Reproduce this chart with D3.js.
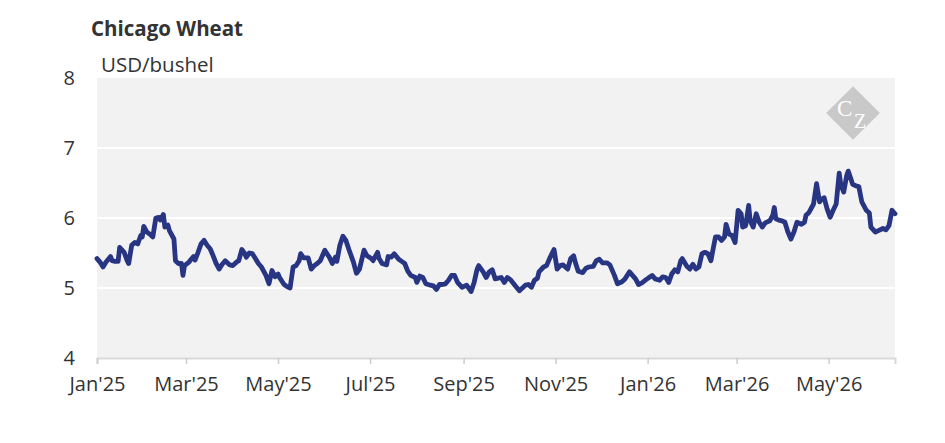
<!DOCTYPE html>
<html>
<head>
<meta charset="utf-8">
<script src="https://cdn.jsdelivr.net/npm/d3@7"></script>
<style>
  body { margin: 0; background: #fff; }
  svg { display: block; font-family: 'Open Sans', sans-serif; }
</style>
</head>
<body>
<svg id="chart" width="945" height="443"></svg>
<script>
// Chicago wheat, USD/bushel
const dates = [
  '2025-01-01', '2025-01-03', '2025-01-05', '2025-01-07', '2025-01-10', '2025-01-11', '2025-01-13', '2025-01-15',
  '2025-01-16', '2025-01-19', '2025-01-21', '2025-01-22', '2025-01-24', '2025-01-26', '2025-01-28', '2025-01-30',
  '2025-01-31', '2025-02-01', '2025-02-03', '2025-02-05', '2025-02-07', '2025-02-09', '2025-02-11', '2025-02-12',
  '2025-02-14', '2025-02-15', '2025-02-17', '2025-02-18', '2025-02-21', '2025-02-22', '2025-02-24', '2025-02-26',
  '2025-02-27', '2025-02-28', '2025-03-03', '2025-03-04', '2025-03-06', '2025-03-07', '2025-03-09', '2025-03-11',
  '2025-03-13', '2025-03-15', '2025-03-17', '2025-03-19', '2025-03-21', '2025-03-23', '2025-03-25', '2025-03-27',
  '2025-03-30', '2025-04-01', '2025-04-04', '2025-04-05', '2025-04-07', '2025-04-09', '2025-04-10', '2025-04-12',
  '2025-04-14', '2025-04-16', '2025-04-18', '2025-04-20', '2025-04-23', '2025-04-25', '2025-04-27', '2025-04-29',
  '2025-05-01', '2025-05-02', '2025-05-05', '2025-05-07', '2025-05-09', '2025-05-11', '2025-05-13', '2025-05-15',
  '2025-05-16', '2025-05-18', '2025-05-21', '2025-05-23', '2025-05-25', '2025-05-27', '2025-05-29', '2025-06-01',
  '2025-06-04', '2025-06-06', '2025-06-08', '2025-06-09', '2025-06-11', '2025-06-13', '2025-06-15', '2025-06-17',
  '2025-06-20', '2025-06-22', '2025-06-24', '2025-06-27', '2025-06-29', '2025-07-02', '2025-07-03', '2025-07-06',
  '2025-07-07', '2025-07-09', '2025-07-12', '2025-07-13', '2025-07-15', '2025-07-17', '2025-07-20', '2025-07-22',
  '2025-07-24', '2025-07-26', '2025-07-28', '2025-07-31', '2025-08-01', '2025-08-03', '2025-08-05', '2025-08-07',
  '2025-08-10', '2025-08-12', '2025-08-14', '2025-08-16', '2025-08-18', '2025-08-20', '2025-08-22', '2025-08-24',
  '2025-08-26', '2025-08-28', '2025-08-31', '2025-09-02', '2025-09-03', '2025-09-06', '2025-09-08', '2025-09-10',
  '2025-09-11', '2025-09-14', '2025-09-16', '2025-09-18', '2025-09-20', '2025-09-22', '2025-09-24', '2025-09-26',
  '2025-09-28', '2025-09-30', '2025-10-02', '2025-10-05', '2025-10-08', '2025-10-10', '2025-10-12', '2025-10-14',
  '2025-10-16', '2025-10-18', '2025-10-20', '2025-10-21', '2025-10-24', '2025-10-26', '2025-10-28', '2025-10-30',
  '2025-10-31', '2025-11-02', '2025-11-04', '2025-11-06', '2025-11-09', '2025-11-11', '2025-11-13', '2025-11-14',
  '2025-11-16', '2025-11-19', '2025-11-21', '2025-11-23', '2025-11-26', '2025-11-28', '2025-11-30', '2025-12-02',
  '2025-12-05', '2025-12-07', '2025-12-10', '2025-12-12', '2025-12-15', '2025-12-17', '2025-12-20', '2025-12-22',
  '2025-12-24', '2025-12-26', '2025-12-28', '2025-12-31', '2026-01-02', '2026-01-04', '2026-01-06', '2026-01-09',
  '2026-01-11', '2026-01-13', '2026-01-15', '2026-01-17', '2026-01-19', '2026-01-21', '2026-01-23', '2026-01-24',
  '2026-01-27', '2026-01-29', '2026-01-31', '2026-02-02', '2026-02-04', '2026-02-06', '2026-02-08', '2026-02-10',
  '2026-02-12', '2026-02-13', '2026-02-15', '2026-02-17', '2026-02-19', '2026-02-21', '2026-02-22', '2026-02-24',
  '2026-02-26', '2026-02-28', '2026-03-02', '2026-03-04', '2026-03-05', '2026-03-07', '2026-03-09', '2026-03-10',
  '2026-03-12', '2026-03-14', '2026-03-16', '2026-03-18', '2026-03-20', '2026-03-23', '2026-03-25', '2026-03-26',
  '2026-03-27', '2026-03-29', '2026-03-31', '2026-04-02', '2026-04-04', '2026-04-06', '2026-04-08', '2026-04-10',
  '2026-04-13', '2026-04-15', '2026-04-16', '2026-04-18', '2026-04-21', '2026-04-23', '2026-04-25', '2026-04-26',
  '2026-04-28', '2026-04-30', '2026-05-02', '2026-05-04', '2026-05-06', '2026-05-08', '2026-05-09', '2026-05-11',
  '2026-05-13', '2026-05-14', '2026-05-17', '2026-05-19', '2026-05-21', '2026-05-23', '2026-05-26', '2026-05-28',
  '2026-05-29', '2026-06-01', '2026-06-03', '2026-06-06', '2026-06-08', '2026-06-10', '2026-06-12', '2026-06-14',
];

const prices = [
  5.42, 5.37, 5.30, 5.37, 5.45, 5.39, 5.38, 5.38,
  5.58, 5.51, 5.39, 5.35, 5.61, 5.65, 5.63, 5.75,
  5.73, 5.88, 5.80, 5.77, 5.73, 6.00, 6.01, 5.97,
  6.05, 5.87, 5.90, 5.82, 5.70, 5.39, 5.35, 5.35,
  5.18, 5.32, 5.37, 5.40, 5.45, 5.40, 5.51, 5.63,
  5.68, 5.61, 5.56, 5.46, 5.35, 5.27, 5.34, 5.39,
  5.33, 5.32, 5.38, 5.39, 5.55, 5.49, 5.44, 5.50,
  5.49, 5.42, 5.35, 5.30, 5.18, 5.06, 5.25, 5.16,
  5.20, 5.15, 5.05, 5.02, 5.00, 5.30, 5.32, 5.39,
  5.49, 5.43, 5.43, 5.27, 5.32, 5.35, 5.39, 5.54,
  5.44, 5.35, 5.44, 5.38, 5.61, 5.74, 5.68, 5.55,
  5.37, 5.21, 5.27, 5.54, 5.46, 5.42, 5.39, 5.51,
  5.42, 5.35, 5.33, 5.45, 5.44, 5.49, 5.41, 5.38,
  5.35, 5.24, 5.18, 5.15, 5.08, 5.17, 5.15, 5.06,
  5.04, 5.03, 4.98, 5.05, 5.05, 5.06, 5.11, 5.18,
  5.18, 5.08, 5.01, 5.03, 5.04, 4.95, 5.08, 5.27,
  5.32, 5.23, 5.15, 5.23, 5.26, 5.13, 5.14, 5.15,
  5.08, 5.15, 5.12, 5.04, 4.96, 5.00, 5.04, 5.05,
  5.01, 5.11, 5.14, 5.23, 5.30, 5.32, 5.42, 5.51,
  5.55, 5.27, 5.32, 5.33, 5.27, 5.42, 5.46, 5.37,
  5.24, 5.22, 5.28, 5.30, 5.31, 5.39, 5.41, 5.36,
  5.36, 5.33, 5.18, 5.06, 5.09, 5.13, 5.23, 5.18,
  5.13, 5.05, 5.07, 5.12, 5.15, 5.18, 5.13, 5.11,
  5.16, 5.15, 5.08, 5.20, 5.26, 5.23, 5.39, 5.42,
  5.31, 5.27, 5.34, 5.27, 5.30, 5.49, 5.51, 5.49,
  5.39, 5.51, 5.73, 5.73, 5.68, 5.73, 5.91, 5.77,
  5.75, 5.65, 6.11, 6.06, 5.87, 5.89, 6.18, 5.96,
  5.87, 6.06, 5.94, 5.87, 5.93, 5.96, 6.04, 6.15,
  5.99, 5.97, 5.96, 5.94, 5.80, 5.70, 5.80, 5.94,
  5.91, 5.94, 6.04, 6.08, 6.20, 6.49, 6.23, 6.26,
  6.29, 6.13, 6.01, 6.11, 6.20, 6.64, 6.49, 6.37,
  6.61, 6.67, 6.48, 6.46, 6.45, 6.23, 6.11, 6.07,
  5.87, 5.80, 5.82, 5.85, 5.83, 5.89, 6.11, 6.06,
];

const yTicks = [4, 5, 6, 7, 8];
const title = 'Chicago Wheat';
const unit = 'USD/bushel';

const parse = d3.timeParse('%Y-%m-%d');
const data = dates.map((d, i) => ({ date: parse(d), value: prices[i] }));

const svg = d3.select('#chart');
const margin = { top: 78, right: 50, bottom: 85, left: 97 };
const width = 945 - margin.left - margin.right;
const height = 443 - margin.top - margin.bottom;

const x = d3.scaleTime()
  .domain([parse('2025-01-01'), data[data.length - 1].date])
  .range([0, width]);

const y = d3.scaleLinear()
  .domain([4, 8])
  .range([height, 0]);

svg.append('text')
  .attr('x', 91)
  .attr('y', 36)
  .attr('fill', '#333')
  .style('font-size', '20.5px')
  .style('font-weight', 'bold')
  .text(title);

const g = svg.append('g')
  .attr('transform', `translate(${margin.left},${margin.top})`);

g.append('rect')
  .attr('width', width)
  .attr('height', height)
  .attr('fill', '#f2f2f2');

// white gridlines
g.append('g')
  .selectAll('line')
  .data(yTicks.filter((t) => t > 4 && t < 8))
  .join('line')
  .attr('x1', 0)
  .attr('x2', width)
  .attr('y1', (d) => y(d))
  .attr('y2', (d) => y(d))
  .attr('stroke', '#fff')
  .attr('stroke-width', 2);

// watermark
const wm = g.append('g')
  .attr('transform', `translate(${width - 42},${35})`);
wm.append('rect')
  .attr('x', -19)
  .attr('y', -19)
  .attr('width', 38)
  .attr('height', 38)
  .attr('transform', 'rotate(45)')
  .attr('fill', '#c9c9c9');
const wmText = wm.append('text')
  .attr('fill', '#fff')
  .style('font-family', 'Liberation Serif, serif')
  .style('font-size', '23px');
wmText.append('tspan').attr('x', -16).attr('y', 3).text('C');
wmText.append('tspan').attr('x', 1).attr('y', 15).style('font-size', '20px').text('Z');

// x axis
const xAxis = d3.axisBottom(x)
  .ticks(d3.timeMonth.every(2))
  .tickFormat(d3.timeFormat("%b'%y"))
  .tickSize(6)
  .tickPadding(13);

g.append('g')
  .attr('transform', `translate(0,${height})`)
  .call(xAxis)
  .call((a) => a.select('.domain').attr('stroke', '#d9d9d9').attr('stroke-width', 2))
  .call((a) => a.selectAll('.tick line').attr('stroke', '#ccc').attr('stroke-width', 1.5))
  .call((a) => a.selectAll('.tick text')
    .attr('fill', '#333')
    .style('font-size', '20px')
    .style('font-family', 'Open Sans, sans-serif'));

// y axis labels
const yAxis = d3.axisLeft(y)
  .tickValues(yTicks)
  .tickFormat(d3.format('d'))
  .tickSize(0)
  .tickPadding(22);

g.append('g')
  .call(yAxis)
  .call((a) => a.select('.domain').remove())
  .call((a) => a.selectAll('.tick text')
    .attr('fill', '#333')
    .style('font-size', '20px')
    .style('font-family', 'Open Sans, sans-serif'));

g.append('text')
  .attr('x', 4)
  .attr('y', -6)
  .attr('fill', '#333')
  .style('font-size', '20.5px')
  .text(unit);

const line = d3.line()
  .x((d) => x(d.date))
  .y((d) => y(d.value));

g.append('path')
  .datum(data)
  .attr('fill', 'none')
  .attr('stroke', '#283583')
  .attr('stroke-width', 4.8)
  .attr('stroke-linejoin', 'round')
  .attr('stroke-linecap', 'round')
  .attr('d', line);
</script>
</body>
</html>
